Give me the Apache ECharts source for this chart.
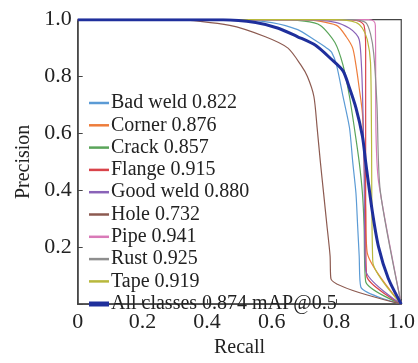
<!DOCTYPE html>
<html>
<head>
<meta charset="utf-8">
<script src="https://cdn.jsdelivr.net/npm/echarts@6/dist/echarts.min.js"></script>
<style>html,body{margin:0;padding:0;background:#fff;}#c{width:418px;height:363px;}</style>
</head>
<body>
<div id="c"></div>
<script>
const classNames = ['Bad weld 0.822','Corner 0.876','Crack 0.857','Flange 0.915','Good weld 0.880','Hole 0.732','Pipe 0.941','Rust 0.925','Tape 0.919'];
const allName = 'All classes 0.874 mAP@0.5';
const xTicks = ['0','0.2','0.4','0.6','0.8','1.0'];
const yTicks = ['','0.2','0.4','0.6','0.8','1.0'];

const badWeldR = [0,0.5,0.6,0.68,0.73,0.77,0.785,0.80,0.82,0.84,0.85,0.86,0.865,0.87,0.875,1.0];
const badWeldP = [1,1,0.99,0.965,0.93,0.9,0.885,0.84,0.73,0.62,0.5,0.39,0.28,0.17,0.06,0];
const cornerR = [0,0.7,0.8,0.83,0.85,0.86,0.87,0.88,0.885,0.89,0.895,1.0];
const cornerP = [1,1,0.98,0.94,0.9,0.84,0.76,0.67,0.5,0.33,0.18,0];
const crackR = [0,0.6,0.7,0.75,0.795,0.82,0.84,0.855,0.87,0.88,0.885,0.89,1.0];
const crackP = [1,1,0.995,0.98,0.92,0.84,0.73,0.62,0.5,0.39,0.28,0.08,0];
const flangeR = [0,0.82,0.87,0.885,0.89,0.89,0.893,1.0];
const flangeP = [1,1,0.995,0.98,0.9,0.3,0.1,0];
const goodWeldR = [0,0.7,0.8,0.84,0.86,0.87,0.875,0.88,0.885,0.89,1.0];
const goodWeldP = [1,1,0.99,0.97,0.95,0.93,0.88,0.75,0.5,0.12,0];
const holeR = [0,0.3,0.47,0.58,0.65,0.69,0.71,0.73,0.74,0.75,0.76,0.77,0.78,0.783,1.0];
const holeP = [1,1,0.98,0.94,0.9,0.84,0.8,0.73,0.62,0.5,0.39,0.28,0.17,0.088,0];
const pipeR = [0,0.9,0.915,0.92,0.922,0.93,1.0];
const pipeP = [1,1,0.995,0.98,0.6,0.43,0];
const rustR = [0,0.85,0.89,0.905,0.915,0.925,0.935,1.0];
const rustP = [1,1,0.99,0.95,0.88,0.7,0.4,0];
const tapeR = [0,0.8,0.86,0.88,0.895,0.905,0.908,0.912,1.0];
const tapeP = [1,1,0.99,0.97,0.93,0.85,0.6,0.15,0];
const allR = [0,0.45,0.55,0.62,0.68,0.735,0.785,0.82,0.84,0.86,0.88,0.89,0.91,0.93,0.96,1.0];
const allP = [1,1,0.99,0.97,0.94,0.91,0.86,0.82,0.76,0.69,0.59,0.5,0.33,0.2,0.09,0];

const classR = [badWeldR,cornerR,crackR,flangeR,goodWeldR,holeR,pipeR,rustR,tapeR];
const classP = [badWeldP,cornerP,crackP,flangeP,goodWeldP,holeP,pipeP,rustP,tapeP];
const colors = ['#5b9bd5','#ee7d3b','#5aa55a','#d9434a','#8a63b8','#8c5a50','#d97ab8','#8e8e8e','#b8b83c'];
const allColor = '#1f2f9c';

const font = "'Liberation Serif', 'DejaVu Serif', serif";
const zip = (r,p) => r.map((v,i)=>[v,p[i]]);

const series = classNames.map((n,i)=>({
  name:n, type:'line', data: zip(classR[i],classP[i]), symbol:'none', smooth:0.25,
  lineStyle:{color:colors[i], width:1.2}, itemStyle:{color:colors[i]}, z:2
}));
series.push({name:allName, type:'line', data: zip(allR,allP), symbol:'none', smooth:0.25,
  lineStyle:{color:allColor, width:3}, itemStyle:{color:allColor}, z:3});

const chart = echarts.init(document.getElementById('c'));
chart.setOption({
  animation:false,
  backgroundColor:'#fff',
  grid:{left:77.7, right:15, top:19.7, bottom:47, show:true, borderColor:'#444', borderWidth:1.2, backgroundColor:'transparent'},
  xAxis:{type:'value', min:0, max:1, interval:0.2,
    name:'Recall', nameLocation:'middle', nameGap:27,
    nameTextStyle:{fontFamily:font, fontSize:20, color:'#222'},
    axisLine:{show:true, lineStyle:{color:'#444', width:1.5}},
    axisTick:{show:true, inside:true, length:5, lineStyle:{color:'#444'}},
    axisLabel:{fontFamily:font, fontSize:22, color:'#222', margin:7,
      formatter:(v)=>xTicks[Math.round(v*5)]},
    splitLine:{show:false}},
  yAxis:{type:'value', min:0, max:1, interval:0.2,
    name:'Precision', nameLocation:'middle', nameGap:36, nameRotate:90,
    nameTextStyle:{fontFamily:font, fontSize:20, color:'#222'},
    axisLine:{show:true, lineStyle:{color:'#444', width:1.5}},
    axisTick:{show:true, inside:true, length:5, lineStyle:{color:'#444'}},
    axisLabel:{fontFamily:font, fontSize:22, color:'#222', margin:6,
      formatter:(v)=>yTicks[Math.round(v*5)]},
    splitLine:{show:false}},
  legend:[
    {data:classNames, orient:'vertical', left:84, top:87, icon:'rect',
      itemWidth:20, itemHeight:2.5, itemGap:0.3,
      textStyle:{fontFamily:font, fontSize:20, color:'#222', lineHeight:22, padding:[0,0,0,-3]}},
    {data:[allName], orient:'vertical', left:84, top:288, icon:'rect',
      itemWidth:20, itemHeight:5, itemGap:0,
      textStyle:{fontFamily:font, fontSize:20, color:'#222', lineHeight:22, padding:[0,0,0,-3]}}
  ],
  series:series
});
</script>
</body>
</html>
